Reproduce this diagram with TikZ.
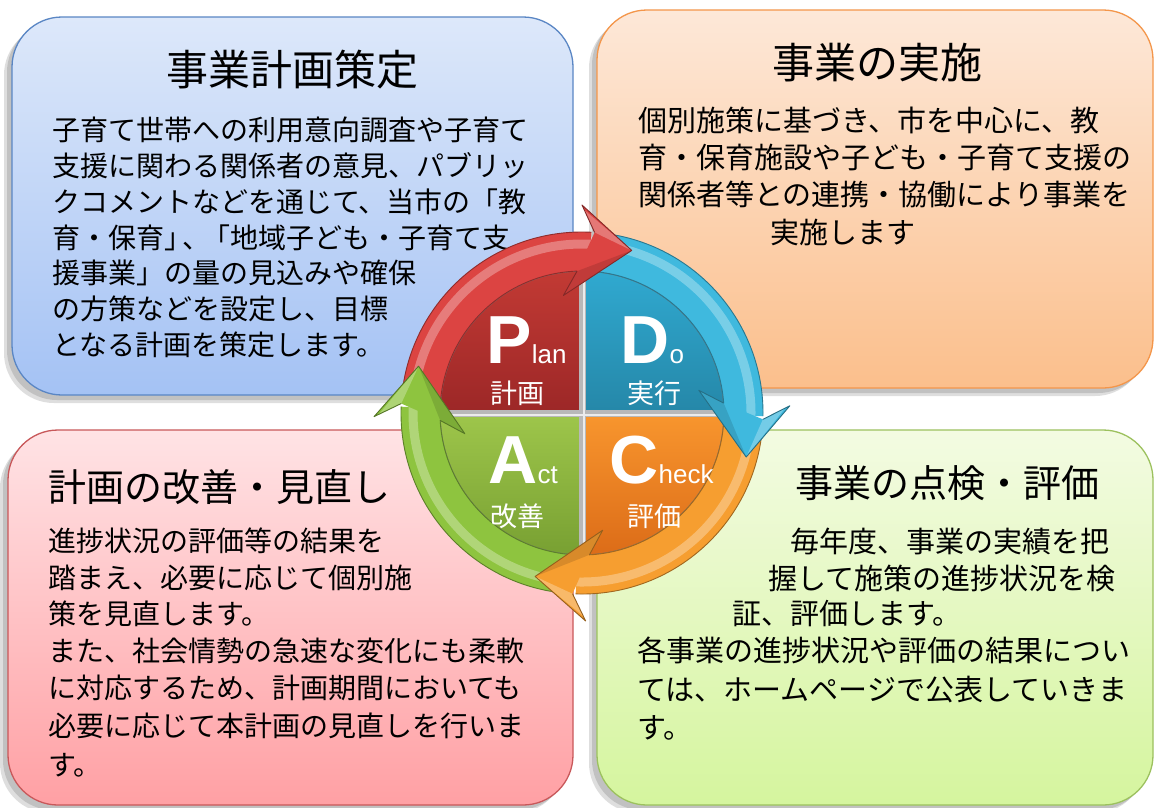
\documentclass[tikz,border=0pt]{standalone}
\usepackage{fontspec}
\setmainfont{Liberation Sans}
\newfontfamily\cjk{Noto Sans CJK JP}
\newfontfamily\lat{Liberation Sans}
\definecolor{bltop}{HTML}{DDE8FA}\definecolor{blbot}{HTML}{A4C2F4}\definecolor{blbd}{HTML}{5A86C4}
\definecolor{ortop}{HTML}{FDE8D8}\definecolor{orbot}{HTML}{FBBF8C}\definecolor{orbd}{HTML}{F4964A}
\definecolor{pktop}{HTML}{FFE3E5}\definecolor{pkbot}{HTML}{FFA0A4}\definecolor{pkbd}{HTML}{C8585A}
\definecolor{grtop}{HTML}{F3FBE2}\definecolor{grbot}{HTML}{D5F59E}\definecolor{grbd}{HTML}{9CC15E}
\definecolor{qPt}{HTML}{C23A34}\definecolor{qPb}{HTML}{9C2727}
\definecolor{qDt}{HTML}{30A9D0}\definecolor{qDb}{HTML}{2587A8}
\definecolor{qAt}{HTML}{9EC64B}\definecolor{qAb}{HTML}{78A032}
\definecolor{qCt}{HTML}{F8962E}\definecolor{qCb}{HTML}{DC6C18}
\definecolor{rRed}{HTML}{DC4442}\definecolor{rBlue}{HTML}{3FB9DE}
\definecolor{rOrange}{HTML}{F69E30}\definecolor{rGreen}{HTML}{8EC43F}
\begin{document}
\begin{tikzpicture}[x=1pt,y=-1pt,
  shadowlayer/.style={fill=black,opacity=0.13,rounded corners=50},
  boxpath/.style={line width=1.3,rounded corners=50},
  titletext/.style={inner sep=0,font=\cjk\fontsize{42}{42}\selectfont},
  smalltitle/.style={inner sep=0,font=\cjk\fontsize{38}{38}\selectfont},
  bodytext/.style={anchor=base west,inner sep=0,font=\cjk\fontsize{28}{28}\selectfont},
  bodytextb/.style={anchor=base west,inner sep=0,font=\cjk\fontsize{29}{29}\selectfont},
  bigletter/.style={anchor=base west,inner sep=0,text=white,font=\lat\bfseries\fontsize{68}{68}\selectfont},
  smallletters/.style={anchor=base west,inner sep=0,text=white,font=\lat\fontsize{26}{26}\selectfont},
  quadjp/.style={anchor=west,inner sep=0,text=white,font=\cjk\fontsize{27}{27}\selectfont}
]
\useasboundingbox (0,0) rectangle (1155,807);
\fill[white] (0,0) rectangle (1155,807);
% ---- shadows
\fill[shadowlayer] (4,25) rectangle (565,403);
\fill[shadowlayer] (7,22) rectangle (568,400);
\fill[shadowlayer] (589,18) rectangle (1145,396);
\fill[shadowlayer] (592,15) rectangle (1148,393);
\fill[shadowlayer] (0,438) rectangle (565,813);
\fill[shadowlayer] (3,435) rectangle (568,810);
\fill[shadowlayer] (589,438) rectangle (1145,813);
\fill[shadowlayer] (592,435) rectangle (1148,810);
% ---- boxes
\draw[boxpath,draw=blbd,top color=bltop,bottom color=blbot] (12,17) rectangle (573,395);
\draw[boxpath,draw=orbd,top color=ortop,bottom color=orbot] (597,10) rectangle (1153,388);
\draw[boxpath,draw=pkbd,top color=pktop,bottom color=pkbot] (8,430) rectangle (573,805);
\draw[boxpath,draw=grbd,top color=grtop,bottom color=grbot] (597,430) rectangle (1153,805);
% ---- blue box text
\node[titletext] (t1) at (292,70) {事業計画策定};
\node[bodytext] (b1a) at (52,140.6) {子育て世帯への利用意向調査や子育て};
\node[bodytext] (b1b) at (52,176.4) {支援に関わる関係者の意見、パブリッ};
\node[bodytext] (b1c) at (52,212.2) {クコメントなどを通じて、当市の「教};
\node[bodytext] (b1d) at (52,248.0) {育・保育」\kern-10pt、\kern-8pt「地域子ども・子育て支};
\node[bodytext] (b1e) at (52,283.8) {援事業」の量の見込みや確保};
\node[bodytext] (b1f) at (52,319.6) {の方策などを設定し、目標};
\node[bodytext] (b1g) at (52,355.4) {となる計画を策定します。};
% ---- orange box text
\node[titletext] (t2) at (877,63) {事業の実施};
\node[bodytextb] (b2a) at (638,131) {個別施策に基づき、市を中心に、教};
\node[bodytextb] (b2b) at (638,168) {育・保育施設や子ども・子育て支援の};
\node[bodytextb] (b2c) at (638,205) {関係者等との連携・協働により事業を};
\node[bodytextb] (b2d) at (770,243) {実施します};
% ---- pink box text
\node[smalltitle,anchor=west] (t3) at (48,487) {計画の改善・見直し};
\node[bodytext] (b3a) at (48,551.6) {進捗状況の評価等の結果を};
\node[bodytext] (b3b) at (48,588.6) {踏まえ、必要に応じて個別施};
\node[bodytext] (b3c) at (48,624.6) {策を見直します。};
\node[bodytext] (b3d) at (48,661.6) {また、社会情勢の急速な変化にも柔軟};
\node[bodytext] (b3e) at (48,698.6) {に対応するため、計画期間においても};
\node[bodytext] (b3f) at (48,736.6) {必要に応じて本計画の見直しを行いま};
\node[bodytext] (b3g) at (48,775.6) {す。};
% ---- green box text
\node[smalltitle] (t4) at (947,483) {事業の点検・評価};
\node[bodytextb] (b4a) at (790,552) {毎年度、事業の実績を把};
\node[bodytextb] (b4b) at (768,589) {握して施策の進捗状況を検};
\node[bodytextb] (b4c) at (732,624) {証、評価します。};
\node[bodytextb] (b4d) at (637,661) {各事業の進捗状況や評価の結果につい};
\node[bodytextb] (b4e) at (637,700) {ては、ホームページで公表していきま};
\node[bodytextb] (b4f) at (637,738) {す。};
% ---- PDCA cycle
\begin{scope}[shift={(582,413)},y=1pt]
  \shade[top color=qPt,bottom color=qPb] (0,0) -- (180:142) arc[start angle=180,end angle=90,radius=142] -- cycle;
  \shade[top color=qDt,bottom color=qDb] (0,0) -- (90:142) arc[start angle=90,end angle=0,radius=142] -- cycle;
  \shade[top color=qCt,bottom color=qCb] (0,0) -- (0:142) arc[start angle=0,end angle=-90,radius=142] -- cycle;
  \shade[top color=qAt,bottom color=qAb] (0,0) -- (-90:142) arc[start angle=-90,end angle=-180,radius=142] -- cycle;
  \draw[black!28,line width=7] (0,142) -- (0,-142) (-142,0) -- (142,0);
  \draw[white!92!black,line width=2] (2,142) -- (2,-142) (-142,-2) -- (142,-2);
  \draw[black!55,line width=1.2] (0,0) circle (142);
  % arrow bodies: tail angle / head angle / colour
  \foreach \b/\a/\c in {175/90/rRed, 84/2/rBlue, -4/-89/rOrange, -95/-179/rGreen}{
    \pgfmathsetmacro{\e}{\a-3}
    \fill[\c] (\b:181) arc[start angle=\b,end angle=\e,radius=181] -- (\e:142) arc[start angle=\e,end angle=\b,radius=142] -- cycle;
    \draw[white,opacity=0.3,line width=9] (\b:169) arc[start angle=\b,end angle=\e,radius=169];
    \draw[\c!65!black,line width=0.9] (\b:181) arc[start angle=\b,end angle=\e,radius=181];
    \draw[\c!65!black,line width=0.9] (\b:142) arc[start angle=\b,end angle=\e,radius=142];
  }
  % arrow heads (swept-back barbs)
  \foreach \a/\c in {90/rRed, 2/rBlue, -89/rOrange, -179/rGreen}{
    \pgfmathsetmacro{\t}{\a-17}
    \pgfmathsetmacro{\ib}{\a+9}
    \pgfmathsetmacro{\inn}{\a+2}
    \pgfmathsetmacro{\onn}{\a-4}
    \fill[\c] (\inn:142) -- (\ib:119) -- (\t:170) -- (\a:208) -- (\onn:181) -- cycle;
    \fill[white,opacity=0.28] (\onn:181) -- (\a:205) -- (\t:170) -- cycle;
    \fill[black,opacity=0.12] (\inn:142) -- (\ib:119) -- (\t:170) -- cycle;
    \draw[\c!60!black,line width=0.9,line join=round] (\onn:181) -- (\a:208) -- (\t:170) -- (\ib:119) -- (\inn:142);
  }
\end{scope}
% ---- quadrant labels
\node[bigletter] (P) at (486,363) {P};
\node[smallletters] (Pl) at (P.base east) {lan};
\node[quadjp] (Pj) at (490,393) {計画};
\node[bigletter] (D) at (620,363) {D};
\node[smallletters] (Do) at (D.base east) {o};
\node[quadjp] (Dj) at (627,393) {実行};
\node[bigletter] (A) at (488,483) {A};
\node[smallletters] (Ac) at (A.base east) {ct};
\node[quadjp] (Aj) at (490,516) {改善};
\node[bigletter] (C) at (609,483) {C};
\node[smallletters] (Ch) at (C.base east) {heck};
\node[quadjp] (Cj) at (627,516) {評価};
\end{tikzpicture}
\end{document}
